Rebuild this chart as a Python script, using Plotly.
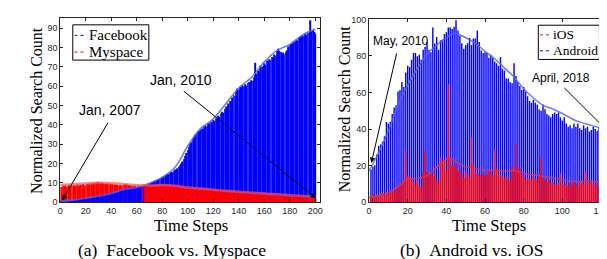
import plotly.graph_objects as go

# ---------------- data: (a) Facebook vs. Myspace ----------------
steps_a = list(range(1, 201))
facebook = [0.5,0.6,0.7,0.6,0.9,0.8,1.0,1.1,1.0,1.2,
            1.3,1.2,1.5,1.4,1.6,1.7,1.6,1.9,2.0,1.9,
            2.1,2.3,2.2,2.5,2.4,2.7,2.9,2.8,3.1,3.0,
            3.3,3.5,3.4,3.8,3.7,4.1,4.0,4.4,4.6,4.5,
            4.9,5.1,5.0,5.5,5.4,5.9,6.0,6.3,6.2,6.7,
            6.8,7.0,6.9,7.2,7.1,7.4,7.3,7.5,7.4,7.6,
            7.7,7.9,7.8,8.2,8.4,8.3,8.8,9.1,9.0,9.6,
            9.9,10.3,10.2,10.9,11.3,11.2,12.0,12.4,12.3,13.0,
            13.4,13.3,14.0,14.5,14.4,15.2,15.6,15.5,16.3,16.8,
            16.7,17.5,18.3,19.2,20.0,21.0,22.3,23.8,25.4,27.0,
            28.6,30.2,31.0,32.8,33.5,35.0,35.6,36.8,36.5,37.6,
            38.0,37.5,38.9,39.6,39.2,40.5,40.8,41.6,40.9,42.4,
            42.0,43.3,43.0,44.6,44.2,45.8,46.7,46.1,48.2,49.5,
            49.0,51.0,52.3,52.0,54.1,55.4,55.0,57.2,58.8,58.1,
            59.6,59.2,60.4,59.9,61.0,60.3,61.6,62.1,61.5,63.0,
            62.7,64.5,72.0,66.4,68.0,67.2,70.5,69.8,70.2,71.8,
            71.0,73.2,72.5,73.9,73.4,75.0,74.7,76.3,75.8,78.0,
            79.3,78.1,77.6,76.8,77.2,76.5,77.9,78.6,80.4,81.2,
            82.0,81.5,83.1,82.8,84.0,83.6,84.9,85.5,84.8,86.3,
            86.0,87.2,86.6,88.1,87.5,94.0,88.3,89.0,88.0,87.0]
myspace = [7.8,8.4,8.2,8.6,8.0,8.5,8.9,8.3,8.7,8.4,
           8.9,8.5,9.1,8.6,8.2,9.0,8.8,9.3,8.4,9.0,
           9.4,8.9,9.6,9.2,9.8,9.5,9.9,10.1,9.7,10.4,
           9.8,10.2,9.6,9.9,9.4,9.7,9.3,9.8,9.5,9.1,
           9.4,8.9,9.2,8.7,9.0,8.6,8.9,8.5,8.8,9.1,
           8.6,9.3,8.8,8.4,8.7,8.3,8.6,8.2,8.5,8.1,
           8.4,8.0,8.3,8.6,8.2,8.5,8.1,8.4,8.7,8.3,
           8.6,8.9,8.5,8.8,9.1,8.7,9.0,9.2,8.8,9.3,
           8.9,9.1,8.6,8.8,8.4,8.7,8.3,8.5,8.1,8.4,
           8.0,8.2,7.8,8.0,7.6,7.9,7.5,7.7,7.3,7.6,
           7.2,7.5,7.1,7.4,7.0,7.3,6.9,7.2,6.8,7.0,
           6.7,6.9,6.5,6.8,6.4,6.6,6.3,6.5,6.1,6.4,
           6.0,6.3,5.9,6.2,5.8,6.0,5.7,5.9,5.6,5.8,
           5.5,5.7,5.4,5.6,5.2,5.5,5.1,5.3,5.0,5.2,
           4.9,5.1,4.8,5.0,4.7,4.9,4.6,4.8,4.5,4.7,
           4.4,4.6,4.3,4.5,4.2,4.4,4.1,4.3,4.0,4.2,
           3.9,4.1,3.8,4.0,3.7,3.9,3.6,3.8,3.5,3.7,
           3.4,3.6,3.3,3.5,3.2,3.4,3.1,3.3,3.0,3.2,
           2.9,3.1,2.8,3.0,2.7,2.9,2.6,2.8,2.5,2.7,
           2.4,2.6,2.3,2.5,2.2,2.4,2.1,2.3,2.0,2.2]
trend_steps_a = [0,10,20,30,40,50,60,70,80,90,100,110,120,130,140,150,160,170,180,190,200]
facebook_trend = [0.5,1.0,2.0,3.0,4.5,6.5,7.6,9.8,12.8,18.0,29.0,38.0,43.0,51.0,59.0,64.5,72.5,78.5,81.5,86.5,89.5]
myspace_trend = [8.8,9.2,9.6,10.0,9.8,9.3,8.8,8.6,8.8,8.4,7.6,7.0,6.4,5.9,5.4,4.9,4.5,4.0,3.6,3.1,2.8]

# ---------------- data: (b) Android vs. iOS ----------------
steps_b = list(range(1, 123))
android = [17.7,19.5,20.2,26.0,30.7,31.6,33.0,36.0,43.9,43.0,
           44.0,48.3,51.8,53.0,60.5,61.4,65.8,63.0,71.0,74.6,
           74.0,78.0,81.6,81.6,79.8,80.7,78.0,83.4,85.0,87.7,
           83.4,82.0,95.6,86.8,90.4,83.4,88.6,89.0,92.0,93.0,
           95.6,95.6,94.8,96.0,99.5,94.0,91.0,87.0,84.0,86.0,
           87.0,90.0,86.0,89.5,89.5,94.0,87.7,83.0,81.6,82.0,
           81.6,79.0,80.7,79.0,77.0,76.0,74.6,79.5,73.0,72.0,
           67.7,67.7,65.8,65.0,76.0,69.0,65.8,63.5,61.4,63.0,
           60.5,57.9,55.3,54.4,56.0,54.4,53.5,50.9,50.0,53.5,
           50.9,48.3,47.4,46.5,48.3,49.1,48.3,49.1,46.5,44.7,
           46.5,43.0,41.3,42.1,40.4,43.0,41.3,43.0,40.4,39.5,
           42.1,40.4,41.3,38.6,39.5,41.3,40.0,39.0,41.0,38.5,
           40.0,39.0]
ios = [2.6,4.4,2.6,4.0,3.5,4.8,5.0,4.2,5.5,4.6,
       5.8,6.5,5.2,7.5,8.0,9.0,10.5,12.0,28.0,14.5,
       14.0,12.5,11.0,9.5,12.0,9.0,8.5,16.0,28.0,16.5,
       15.0,17.5,14.5,15.5,12.0,11.0,24.6,22.0,23.0,17.0,
       64.5,24.0,20.2,19.3,21.0,16.7,18.4,15.0,13.2,16.7,
       16.0,13.2,35.6,21.0,16.7,15.8,15.0,15.0,15.8,15.0,
       15.0,17.5,16.7,15.0,28.4,18.4,15.0,15.0,14.0,13.2,
       14.0,13.5,11.4,20.2,17.5,31.6,18.4,18.4,15.0,15.0,
       12.3,13.2,13.0,12.5,14.0,13.0,12.5,14.5,24.6,13.0,
       12.3,11.5,12.3,10.5,11.0,10.0,9.5,10.5,15.8,10.0,
       9.5,10.5,9.0,10.0,9.5,11.0,10.0,9.0,10.5,11.0,
       10.0,17.0,11.0,10.5,11.5,10.0,9.5,10.0,9.0,9.5,
       10.0,8.5]
trend_steps_b = [0,5,10,15,20,25,30,35,40,44,50,55,60,65,70,75,80,85,90,95,100,105,110,115,120,124]
android_trend = [17,27,39,53,64,73,81,86,90,92.5,90,87,82.5,78.5,73.5,68.5,62,57,53,51,48.5,45.5,43.5,42,40.5,40]
trend_steps_ios = [0,5,10,15,20,25,30,35,40,42,45,50,55,60,65,70,75,80,85,90,95,100,105,110,115,120,122]
ios_trend = [2.5,3.5,5.3,8.5,12.3,13,14.5,19,23.5,24,22,19.5,18.4,17.5,17.3,17,17.3,15.8,15,14,13.2,12.3,11.4,11.2,11.5,10.5,10]

BLUE = "#0000ff"
RED = "#ff0000"
BLUE_R = "rgba(0,0,255,0.995)"   # non-opaque -> pixel-rounded thin bars with visible gaps
RED_R = "rgba(255,0,0,0.995)"
SERIF = "Liberation Serif"
SANS = "Liberation Sans"
AXC = "#262626"

W, H = 607, 259

fig = go.Figure()

# (a): taller bar behind, shorter bar in front
back_vals = [max(f, m) for f, m in zip(facebook, myspace)]
back_cols = [BLUE if f >= m else RED for f, m in zip(facebook, myspace)]
front_vals = [min(f, m) for f, m in zip(facebook, myspace)]
front_cols = [RED if f >= m else BLUE for f, m in zip(facebook, myspace)]
fig.add_trace(go.Bar(x=steps_a, y=back_vals, marker=dict(color=back_cols, line=dict(width=0)),
                     width=0.75, xaxis="x", yaxis="y", showlegend=False))
fig.add_trace(go.Bar(x=steps_a, y=front_vals, marker=dict(color=front_cols, line=dict(width=0)),
                     width=0.75, xaxis="x", yaxis="y", showlegend=False))
fig.add_trace(go.Scatter(x=trend_steps_a, y=facebook_trend, mode="lines", line=dict(color="rgba(80,100,255,0.85)", width=1.6, shape="spline"),
                         xaxis="x", yaxis="y", showlegend=False))
fig.add_trace(go.Scatter(x=trend_steps_a, y=myspace_trend, mode="lines", line=dict(color="rgba(255,80,80,0.7)", width=2.5, shape="spline"),
                         xaxis="x", yaxis="y", showlegend=False))

# (b)
fig.add_trace(go.Bar(x=steps_b, y=android, marker=dict(color=BLUE_R, line=dict(width=0)),
                     width=0.74, xaxis="x2", yaxis="y2", showlegend=False))
fig.add_trace(go.Bar(x=steps_b, y=ios, marker=dict(color=RED_R, line=dict(width=0)),
                     width=0.74, xaxis="x2", yaxis="y2", showlegend=False))
fig.add_trace(go.Scatter(x=trend_steps_b, y=android_trend, mode="lines", line=dict(color="rgba(80,100,255,0.85)", width=1.5, shape="spline"),
                         xaxis="x2", yaxis="y2", showlegend=False))
fig.add_trace(go.Scatter(x=trend_steps_ios, y=ios_trend, mode="lines", line=dict(color="rgba(230,50,60,0.85)", width=1.5, shape="spline"),
                         xaxis="x2", yaxis="y2", showlegend=False))

axis_common = dict(showgrid=False, zeroline=False, showline=True, linecolor=AXC, linewidth=1,
                   mirror="ticks", ticks="inside", ticklen=3, tickcolor=AXC,
                   tickfont=dict(family=SANS, size=9, color=AXC))

fig.update_layout(
    width=W, height=H, margin=dict(l=0, r=0, t=0, b=0),
    paper_bgcolor="white", plot_bgcolor="white", barmode="overlay",
    xaxis=dict(domain=[49.6 / W, 312 / W], range=[0, 204], tickvals=list(range(0, 201, 20)), anchor="y", **axis_common),
    yaxis=dict(domain=[1 - 196.7 / H, 1 - 5 / H], range=[0, 95.3], tickvals=list(range(0, 91, 10)), anchor="x", **axis_common),
    xaxis2=dict(domain=[361 / W, 603.5 / W], range=[0, 124.4], tickvals=list(range(0, 121, 20)), anchor="y2", **axis_common),
    yaxis2=dict(domain=[1 - 196.7 / H, 1 - 6.7 / H], range=[0, 100], tickvals=list(range(0, 101, 20)), anchor="x2", **axis_common),
)

def px(x, y):
    return x / W, 1 - y / H

ann = []
shapes = []

def text(x, y, s, size, family=SERIF, angle=0, xanchor="center"):
    X, Y = px(x, y)
    ann.append(dict(x=X, y=Y, xref="paper", yref="paper", text=s, showarrow=False, textangle=angle,
                    xanchor=xanchor, yanchor="middle", font=dict(family=family, size=size, color="black")))

# axis titles and captions
text(25, 101, "Normalized Search Count", 16, angle=-90)
text(336, 100, "Normalized Search Count", 16, angle=-90)
text(181, 221, "Time Steps", 16.5)
text(482, 221, "Time Steps", 16.5)
text(162, 247, "(a)\u00a0\u00a0Facebook vs. Myspace", 17.5)
text(464, 247, "(b)\u00a0\u00a0Android vs. iOS", 17.5)

# annotation arrows
def arrow(xr, yr, hx, hy, tx, ty):
    ann.append(dict(x=hx, y=hy, ax=tx, ay=ty, xref=xr, yref=yr, axref=xr, ayref=yr, text=" ",
                    font=dict(size=1), showarrow=True, arrowhead=2, arrowsize=1.1, arrowwidth=1,
                    arrowcolor="black", standoff=0, startstandoff=0))

def dtext(xr, yr, x, y, s, size):
    ann.append(dict(x=x, y=y, xref=xr, yref=yr, text=s, showarrow=False,
                    font=dict(family=SANS, size=size, color="black")))

# left plot: x = (px-49.6)/1.2856, y = (196.7-py)/2.011
arrow("x", "y", 1.5, 0.85, 38.4, 42.1)
dtext("x", "y", 39.2, 47.5, "Jan, 2007", 14)
arrow("x", "y", 200.5, 2.0, 95.7, 58.0)
dtext("x", "y", 94.7, 63.0, "Jan, 2010", 14)
# right plot: x = (px-361)/1.95, y = (196.7-py)/1.9
arrow("x2", "y2", 1.2, 21.4, 14.5, 82.5)
dtext("x2", "y2", 16.4, 88.3, "May, 2010", 12)
arrow("x2", "y2", 122.0, 40.4, 100.4, 63.2)
dtext("x2", "y2", 99.3, 68.0, "April, 2018", 12)

# manual legends
def legend_box(x0, y0, x1, y1):
    X0, Y0 = px(x0, y0)
    X1, Y1 = px(x1, y1)
    shapes.append(dict(type="rect", xref="paper", yref="paper", x0=X0, x1=X1, y0=Y1, y1=Y0,
                       line=dict(color="black", width=1), fillcolor="white", layer="above"))

def legend_item(x0, x1, y, color, label, size):
    X0, Y = px(x0, y)
    X1, _ = px(x1, y)
    shapes.append(dict(type="line", xref="paper", yref="paper", x0=X0, x1=X1, y0=Y, y1=Y,
                       line=dict(color=color, width=1, dash="dot"), layer="above"))
    text(x1 + 1.5, y, label, size, xanchor="left")

legend_box(62.3, 12.3, 139, 49)
legend_item(64, 75, 23.3, "blue", "Facebook", 15)
legend_item(64, 75, 40.7, "red", "Myspace", 15)
legend_box(531.7, 12.7, 593.3, 48.3)
legend_item(533.3, 543, 22.7, "red", "iOS", 13.5)
legend_item(533.3, 543, 39.3, "blue", "Android", 13.5)

fig.update_layout(annotations=ann, shapes=shapes)
fig.write_html("out.html")
